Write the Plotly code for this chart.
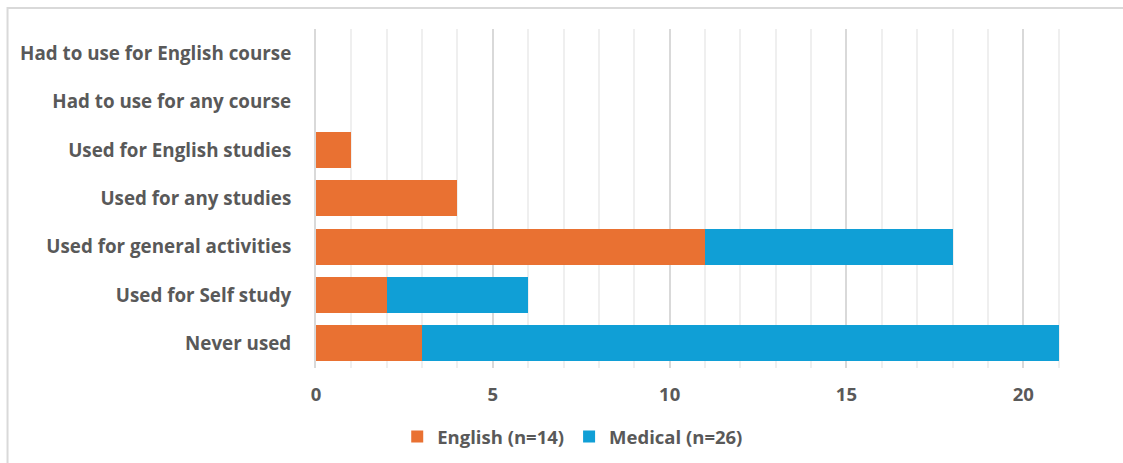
import plotly.graph_objects as go

categories = [
    "Had to use for English course",
    "Had to use for any course",
    "Used for English studies",
    "Used for any studies",
    "Used for general activities",
    "Used for Self study",
    "Never used",
]
english = [0, 0, 1, 4, 11, 2, 3]
medical = [0, 0, 0, 0, 7, 4, 18]
x_ticks = [0, 5, 10, 15, 20]

FONT = "Open Sans"
TXT = "#595959"

fig = go.Figure()
fig.add_trace(go.Bar(y=categories, x=english, orientation="h", name="English (n=14)",
                     marker=dict(color="#E97132", line=dict(width=0))))
fig.add_trace(go.Bar(y=categories, x=medical, orientation="h", name="Medical (n=26)",
                     marker=dict(color="#109FD6", line=dict(width=0))))

fig.update_layout(
    width=1123, height=463,
    margin=dict(l=316, r=29, t=29, b=94),
    barmode="stack", bargap=0.26,
    plot_bgcolor="white", paper_bgcolor="white",
    font=dict(family=FONT, size=18.8, color=TXT),
    showlegend=True,
    legend=dict(orientation="h", xref="container", yref="container",
                x=0.51, xanchor="center", y=0.056, yanchor="middle",
                font=dict(family=FONT, size=18.5, color=TXT, weight="bold"),
                itemwidth=30, traceorder="normal"),
    xaxis=dict(range=[0, 22], tickvals=x_ticks, showgrid=True, gridcolor="#d9d9d9",
               gridwidth=1.5, zeroline=False, showline=False,
               minor=dict(dtick=1, showgrid=True, gridcolor="#efefef", gridwidth=1.5),
               tickfont=dict(family=FONT, size=18.5, color=TXT, weight="bold"),
               ticklabelstandoff=14),
    yaxis=dict(autorange="reversed", showgrid=False, zeroline=False,
               showline=True, linecolor="#d9d9d9", linewidth=2,
               tickfont=dict(family=FONT, size=18.8, color=TXT, weight="bold"),
               ticklabelstandoff=19),
    shapes=[dict(type="rect", xref="paper", yref="paper",
                 x0=-0.3965, x1=1.2, y0=-0.5, y1=1.0618,
                 line=dict(color="#d9d9d9", width=2), layer="below")],
)

fig.write_html("out.html")
